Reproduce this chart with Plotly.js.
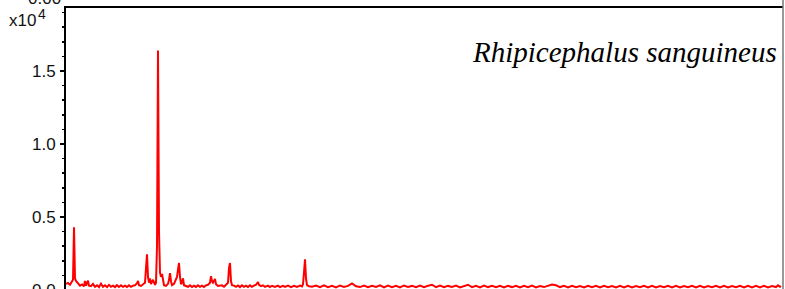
<!DOCTYPE html>
<html>
<head>
<meta charset="utf-8">
<script src="https://cdn.plot.ly/plotly-3.0.1.min.js"></script>
<style>
html,body{margin:0;padding:0;width:785px;height:289px;overflow:hidden;background:#fff;}
#chart{position:absolute;left:0;top:-30px;width:785px;height:330px;}
</style>
</head>
<body>
<div id="chart"></div>
<script>
// Mass spectrum (m/z vs intensity, counts)
var mz = [1320,1360,1400,1440,1460,1480,1500,1520,1560,1600,
  1640,1680,1700,1720,1760,1780,1820,1860,1900,1940,
  1980,2020,2060,2100,2140,2180,2220,2260,2300,2340,
  2380,2420,2460,2500,2540,2580,2620,2660,2700,2740,
  2760,2780,2820,2860,2900,2920,2940,2960,2980,3000,
  3020,3060,3100,3120,3140,3160,3180,3200,3220,3240,
  3260,3280,3320,3360,3380,3400,3420,3440,3480,3520,
  3540,3560,3580,3600,3620,3640,3660,3680,3720,3760,
  3800,3840,3880,3920,3960,4000,4040,4080,4120,4160,
  4200,4220,4240,4260,4300,4320,4360,4400,4440,4480,
  4520,4560,4580,4600,4620,4640,4680,4720,4760,4800,
  4840,4880,4920,4960,5000,5040,5080,5120,5160,5180,
  5220,5260,5300,5360,5400,5440,5500,5560,5600,5660,
  5700,5760,5820,5880,5940,6000,6040,6060,6080,6100,
  6120,6140,6180,
  6240,6320,6400,6480,6560,6640,6720,6800,6880,6960,
  7040,7120,7200,7280,7360,7440,7520,7600,7680,7760,
  7840,7920,8000,8080,8160,8240,8320,8400,8480,8560,
  8640,8720,8800,8880,8960,9040,9120,9200,9280,9360,
  9440,9520,9600,9680,9760,9840,9920,10000,10080,10160,
  10240,10320,10400,10480,10560,10640,10720,10800,10880,10960,
  11040,11120,11200,11280,11360,11440,11520,11600,11680,11760,
  11840,11920,12000,12080,12160,12240,12320,12400,12480,12560,
  12640,12720,12800,12880,12960,13040,13120,13200,13280,13360,
  13440,13520,13600,13680,13760,13840,13920,14000,14080,14160,
  14240,14320,14400,14480,14560,14640,14720,14800,14880,14960,
  15040,15120,15200,15280,15360,15440,15520,15560,15600,15620];
var intensity = [420,480,360,540,700,4300,800,620,460,300,
  380,260,620,300,640,300,260,420,220,320,
  200,440,220,320,200,350,220,300,200,330,
  210,320,220,300,200,320,220,300,320,460,
  620,330,280,420,500,1500,2450,900,500,800,
  400,700,350,500,3000,16400,4000,1200,900,1100,
  500,330,280,420,700,1150,600,330,420,700,
  900,1400,1850,900,400,500,800,330,280,220,
  320,200,300,210,320,220,300,200,320,360,
  500,950,600,500,750,400,280,300,320,220,
  340,500,1500,1850,600,330,300,220,310,200,
  320,220,300,200,320,220,300,360,550,350,
  260,320,210,300,200,290,210,300,200,290,
  210,300,200,290,210,300,240,400,1200,2100,
  800,330,260,
  220,300,190,320,200,290,180,310,210,280,
  450,260,200,310,190,290,210,320,180,300,
  200,290,180,310,210,280,190,300,200,290,
  360,200,300,190,280,210,300,180,290,360,
  200,290,180,300,200,280,190,290,180,280,
  200,290,180,280,190,300,180,270,200,290,
  380,320,200,280,180,290,190,270,180,290,
  190,280,170,290,190,270,180,280,170,290,
  180,270,190,280,170,290,180,270,190,280,
  170,290,180,270,190,280,170,290,180,270,
  190,280,170,290,180,270,190,280,170,290,
  180,280,170,290,180,270,200,320,220,280];
var yTickVals = [0, 5000, 10000, 15000];
var yTickText = ['0.0', '0.5', '1.0', '1.5'];
var speciesLabel = 'Rhipicephalus sanguineus';

var trace = {
  x: mz, y: intensity, type: 'scatter', mode: 'lines',
  line: {color: '#ff0000', width: 2}, hoverinfo: 'skip'
};

var tickFont = {family: 'Liberation Sans', size: 17, color: '#111'};

var layout = {
  width: 785, height: 330,
  margin: {l: 66, r: 2, t: 38, b: 8, pad: 0},
  paper_bgcolor: '#fff', plot_bgcolor: '#fff',
  showlegend: false,
  xaxis: {
    range: [1320, 15660], showgrid: false, zeroline: false,
    showline: true, mirror: true, linecolor: '#000', linewidth: 2,
    ticks: '', showticklabels: false
  },
  yaxis: {
    range: [-137, 19315], showgrid: false, zeroline: false,
    showline: true, linecolor: '#000', linewidth: 2,
    tickvals: yTickVals, ticktext: yTickText,
    ticks: 'outside', ticklen: 4, tickwidth: 1.5, tickcolor: '#000',
    tickfont: tickFont, ticklabelstandoff: 1,
    minor: {dtick: 1000, tick0: 0, ticks: 'outside', ticklen: 2, tickwidth: 1.5, tickcolor: '#000'}
  },
  shapes: [
    {type: 'line', xref: 'paper', yref: 'paper', x0: 1, x1: 1, y0: -0.1, y1: 1.2,
     line: {color: '#777', width: 1.5}}
  ],
  annotations: [
    {text: speciesLabel, xref: 'paper', yref: 'paper', x: 0.9944, y: 0.845,
     xanchor: 'right', yanchor: 'middle', showarrow: false,
     font: {family: 'Liberation Serif', size: 29, color: '#000', style: 'italic'}},
    {text: 'x10', xref: 'paper', yref: 'paper', x: -0.0823, y: 0.955,
     xanchor: 'left', yanchor: 'middle', showarrow: false, font: tickFont},
    {text: '4', xref: 'paper', yref: 'paper', x: -0.0419, y: 0.978,
     xanchor: 'left', yanchor: 'middle', showarrow: false,
     font: {family: 'Liberation Sans', size: 14, color: '#111'}},
    {text: '0.00', xref: 'paper', yref: 'paper', x: 0, xshift: -3, y: 1.0317,
     xanchor: 'right', yanchor: 'middle', showarrow: false, font: tickFont}
  ]
};

Plotly.newPlot('chart', [trace], layout, {staticPlot: true, displayModeBar: false});
</script>
</body>
</html>
